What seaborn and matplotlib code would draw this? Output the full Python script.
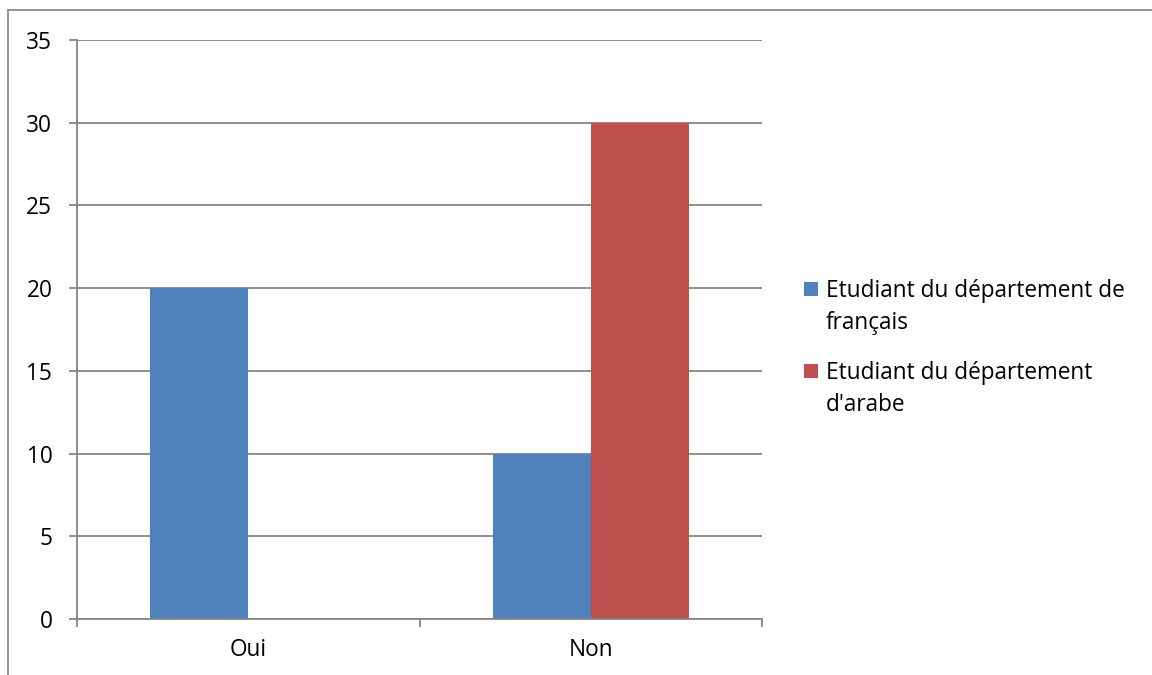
import matplotlib
matplotlib.use("Agg")
import matplotlib.pyplot as plt
from matplotlib.lines import Line2D
from matplotlib.patches import Rectangle
import seaborn as sns
import pandas as pd

# Survey answers by department
categories = ["Oui", "Non"]
series_names = ["Etudiant du département de\nfrançais", "Etudiant du département\nd'arabe"]
francais = [20, 10]
arabe = [0, 30]
y_ticks = [0, 5, 10, 15, 20, 25, 30, 35]

colors = ["#4F81BD", "#C0504D"]
grey = "#868686"

df = pd.DataFrame({
    "reponse": categories * 2,
    "serie": [series_names[0]] * 2 + [series_names[1]] * 2,
    "valeur": francais + arabe,
})

sns.set_theme(style="white")
plt.rcParams["font.family"] = ["Open Sans", "DejaVu Sans"]

W, H = 1152, 675
FS = 16.3
fig = plt.figure(figsize=(W / 100, H / 100), dpi=100)
ax = fig.add_axes([77 / W, 1 - 619 / H, (762 - 77) / W, (619 - 40) / H])

sns.barplot(data=df, x="reponse", y="valeur", hue="serie", order=categories,
            hue_order=series_names, palette=colors, width=0.571, gap=0,
            saturation=1, linewidth=0, legend=False, ax=ax)

ax.set_xlim(-0.5, 1.5)
ax.set_ylim(0, 35)
ax.set_yticks(y_ticks)
ax.yaxis.grid(True, color=grey, linewidth=1.3)
ax.set_axisbelow(True)
ax.set_xlabel("")
ax.set_ylabel("")

for side in ["top", "right"]:
    ax.spines[side].set_visible(False)
for side in ["left", "bottom"]:
    ax.spines[side].set_color(grey)
    ax.spines[side].set_linewidth(1.3)

ax.tick_params(axis="y", length=5.8, width=1.3, color=grey, direction="out",
               pad=12, labelsize=FS, labelcolor="black", left=True)
ax.set_xticks([0, 1])
ax.set_xticklabels(categories)
ax.tick_params(axis="x", which="major", length=0, pad=13.5, labelsize=FS, labelcolor="black")
ax.set_xticks([-0.5, 0.5, 1.5], minor=True)
ax.tick_params(axis="x", which="minor", length=5.8, width=1.3, color=grey,
               direction="out", bottom=True)

# Legend on the right: colour key aligned with the first line of each label
key_tops = [282, 364]
baselines = [[297, 329], [379, 411]]
for name, color, top, lines_y in zip(series_names, colors, key_tops, baselines):
    fig.add_artist(Rectangle((804 / W, 1 - (top + 14) / H), 14 / W, 14 / H,
                             facecolor=color, edgecolor="none",
                             transform=fig.transFigure))
    for line, yb in zip(name.split("\n"), lines_y):
        fig.text(826 / W, 1 - yb / H, line, fontsize=FS, ha="left",
                 va="baseline", color="black")

# Outer chart-area frame
fig.add_artist(Line2D([8 / W, 8 / W], [0, 1 - 10 / H], color="#8c8c8c",
                      linewidth=1.3, transform=fig.transFigure))
fig.add_artist(Line2D([8 / W, 1], [1 - 10 / H, 1 - 10 / H], color="#8c8c8c",
                      linewidth=1.3, transform=fig.transFigure))

fig.savefig("out.png", dpi=100, facecolor="white")
